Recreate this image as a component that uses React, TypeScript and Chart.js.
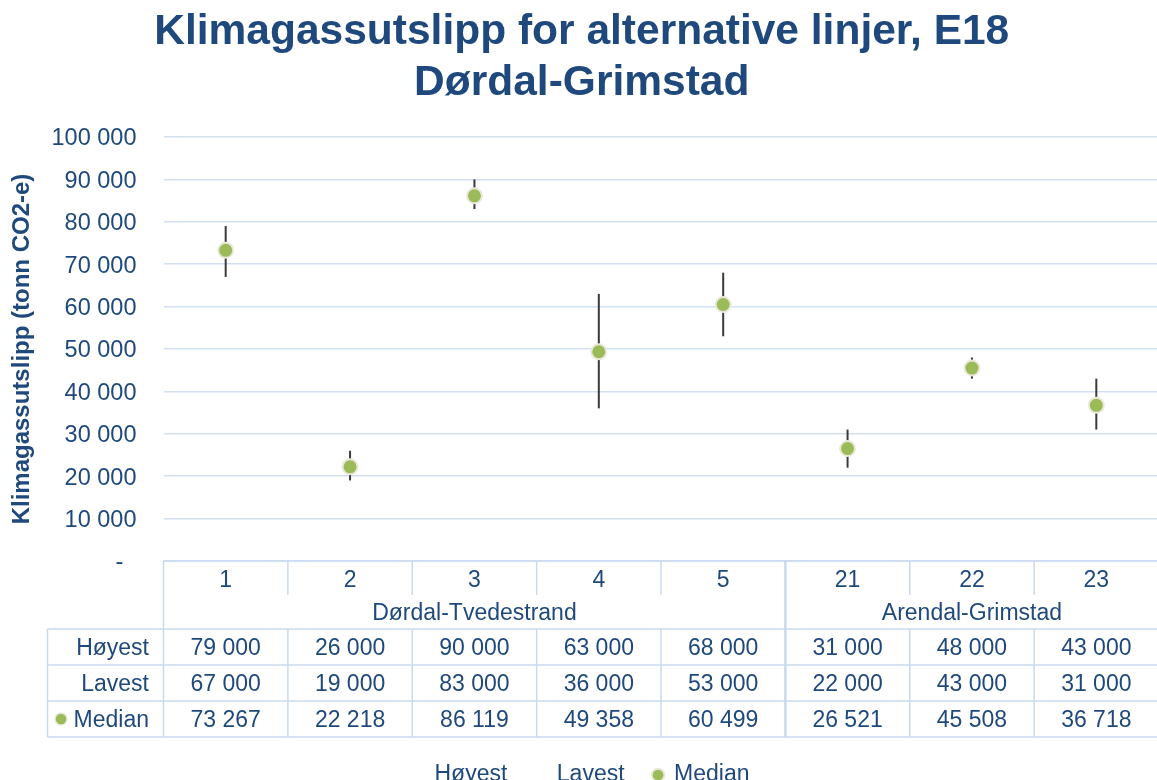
import React, { useEffect, useRef } from 'react';
import { Chart, registerables } from 'chart.js';

Chart.register(...registerables);

const categories = ['1', '2', '3', '4', '5', '21', '22', '23'];
const groups = ['Dørdal-Tvedestrand', 'Arendal-Grimstad'];
const groupSizes = [5, 3];
const hoyest = [79000, 26000, 90000, 63000, 68000, 31000, 48000, 43000];
const lavest = [67000, 19000, 83000, 36000, 53000, 22000, 43000, 31000];
const median = [73267, 22218, 86119, 49358, 60499, 26521, 45508, 36718];
const seriesNames = ['Høyest', 'Lavest', 'Median'];
const titleLines = ['Klimagassutslipp for alternative linjer, E18', 'Dørdal-Grimstad'];
const yTitle = 'Klimagassutslipp (tonn CO2-e)';
const yMax = 100000;
const yStep = 10000;

const FONT = "'Liberation Sans', Arial, sans-serif";
const TEXT = '#1F497D';
const GRID = '#D3E0F1';
const LINE = '#C9DAEF';
const GREEN = '#9BBB59';
const GREEN_BORDER = '#EAE8DA';
const HILO = '#3A3A3A';

const fmt = (v: number) => String(Math.round(v)).replace(/\B(?=(\d{3})+(?!\d))/g, ' ');

const hiLoPlugin = {
  id: 'hiLo',
  beforeDatasetsDraw(chart: any) {
    const { ctx } = chart;
    const xs = chart.scales.x;
    const ys = chart.scales.y;
    ctx.save();
    ctx.strokeStyle = HILO;
    ctx.lineWidth = 2;
    categories.forEach((_c, i) => {
      const x = xs.getPixelForValue(i);
      ctx.beginPath();
      ctx.moveTo(x, ys.getPixelForValue(hoyest[i]));
      ctx.lineTo(x, ys.getPixelForValue(lavest[i]));
      ctx.stroke();
    });
    ctx.restore();
  },
};

const tablePlugin = {
  id: 'dataTable',
  afterDraw(chart: any) {
    const { ctx, chartArea } = chart;
    const xs = chart.scales.x;
    const n = categories.length;
    const step = xs.getPixelForValue(1) - xs.getPixelForValue(0);
    const edge = (i: number) => xs.getPixelForValue(i) - step / 2;
    const top = chartArea.bottom;
    const catBottom = top + 34;
    const grpBottom = catBottom + 34;
    const rowH = 36;
    const bottom = grpBottom + rowH * 3;
    const headerLeft = chartArea.left - 116;
    const tableLeft = chartArea.left;
    const right = edge(n);
    const textNudge = 2;

    const hline = (x1: number, x2: number, y: number, w = 1.5) => {
      ctx.lineWidth = w;
      ctx.beginPath();
      ctx.moveTo(x1, y);
      ctx.lineTo(x2, y);
      ctx.stroke();
    };
    const vline = (x: number, y1: number, y2: number, w = 1.5) => {
      ctx.lineWidth = w;
      ctx.beginPath();
      ctx.moveTo(x, y1);
      ctx.lineTo(x, y2);
      ctx.stroke();
    };

    ctx.save();
    ctx.strokeStyle = LINE;
    hline(tableLeft, right, top);
    for (let r = 0; r <= 3; r++) hline(headerLeft, right, grpBottom + r * rowH);
    vline(headerLeft, grpBottom, bottom);
    vline(tableLeft, top, bottom);
    const groupEdges: number[] = [];
    let acc = 0;
    groupSizes.forEach((s) => {
      acc += s;
      groupEdges.push(acc);
    });
    for (let i = 1; i < n; i++) {
      const x = edge(i);
      if (groupEdges.includes(i)) {
        vline(x, top, bottom, 2.5);
      } else {
        vline(x, top, catBottom);
        vline(x, grpBottom, bottom);
      }
    }
    vline(right, top, bottom);

    ctx.fillStyle = TEXT;
    ctx.font = `23px ${FONT}`;
    ctx.textBaseline = 'middle';
    ctx.textAlign = 'center';
    let start = 0;
    groups.forEach((g, gi) => {
      const endIdx = start + groupSizes[gi];
      const cx = (edge(start) + edge(endIdx)) / 2;
      ctx.fillText(g, cx, (catBottom + grpBottom) / 2 + textNudge);
      start = endIdx;
    });
    const rows = [hoyest, lavest, median];
    rows.forEach((row, r) => {
      const cy = grpBottom + r * rowH + rowH / 2 + textNudge;
      row.forEach((v, i) => {
        ctx.fillText(fmt(v), xs.getPixelForValue(i), cy);
      });
    });
    ctx.textAlign = 'right';
    seriesNames.forEach((name, r) => {
      const cy = grpBottom + r * rowH + rowH / 2 + textNudge;
      ctx.fillText(name, chartArea.left - 14.5, cy);
    });
    // median marker in header
    const my = grpBottom + 2 * rowH + rowH / 2;
    ctx.beginPath();
    ctx.arc(headerLeft + 13.5, my, 6, 0, Math.PI * 2);
    ctx.fillStyle = GREEN;
    ctx.fill();
    ctx.lineWidth = 1.5;
    ctx.strokeStyle = GREEN_BORDER;
    ctx.stroke();
    ctx.restore();
  },
};

export default function App() {
  const ref = useRef<HTMLCanvasElement | null>(null);
  useEffect(() => {
    if (!ref.current) return;
    Chart.defaults.font.family = FONT;
    const chart = new Chart(ref.current, {
      type: 'line',
      data: {
        labels: categories,
        datasets: [
          {
            label: seriesNames[0],
            data: hoyest,
            showLine: false,
            pointRadius: 0,
            pointHoverRadius: 0,
            backgroundColor: 'rgba(0,0,0,0)',
            borderColor: 'rgba(0,0,0,0)',
            pointBackgroundColor: 'rgba(0,0,0,0)',
            pointBorderColor: 'rgba(0,0,0,0)',
          },
          {
            label: seriesNames[1],
            data: lavest,
            showLine: false,
            pointRadius: 0,
            pointHoverRadius: 0,
            backgroundColor: 'rgba(0,0,0,0)',
            borderColor: 'rgba(0,0,0,0)',
            pointBackgroundColor: 'rgba(0,0,0,0)',
            pointBorderColor: 'rgba(0,0,0,0)',
          },
          {
            label: seriesNames[2],
            data: median,
            showLine: false,
            pointRadius: 7.5,
            pointHoverRadius: 7.5,
            pointStyle: 'circle',
            backgroundColor: GREEN,
            borderColor: GREEN_BORDER,
            pointBackgroundColor: GREEN,
            pointBorderColor: GREEN_BORDER,
            pointBorderWidth: 2,
            borderWidth: 1.5,
          },
        ],
      },
      options: {
        responsive: false,
        animation: false,
        events: [],
        layout: { padding: { left: 0, right: 4.5, top: 0, bottom: -16.5 } },
        plugins: {
          tooltip: { enabled: false },
          title: {
            display: true,
            text: titleLines,
            color: TEXT,
            font: { size: 42.5, weight: 'bold', family: FONT, lineHeight: 1.2 },
            padding: { top: 7, bottom: 28 },
          },
          legend: {
            display: true,
            position: 'bottom',
            labels: {
              usePointStyle: true,
              boxWidth: 9,
              boxHeight: 9,
              padding: 29,
              color: TEXT,
              font: { size: 23, family: FONT },
            },
          },
        },
        scales: {
          x: {
            type: 'category',
            offset: true,
            afterFit: (s: any) => {
              s.height = 173.5;
            },
            grid: { display: false, drawTicks: false },
            border: { display: false },
            ticks: {
              color: TEXT,
              font: { size: 23, family: FONT },
              padding: 6,
              maxRotation: 0,
              autoSkip: false,
            },
          },
          y: {
            min: 0,
            max: yMax,
            afterFit: (s: any) => {
              s.width = 163.5;
            },
            grid: { color: GRID, lineWidth: 1.5, drawTicks: false },
            border: { display: false },
            ticks: {
              stepSize: yStep,
              color: TEXT,
              padding: 27,
              labelOffset: 2,
              font: { size: 23.5, family: FONT },
              callback: (v: any) => (Number(v) === 0 ? '-  ' : fmt(Number(v))),
            },
            title: {
              display: true,
              text: yTitle,
              color: TEXT,
              font: { size: 24, weight: 'bold', family: FONT },
              padding: { top: 8, bottom: 0 },
            },
          },
        },
      },
      plugins: [hiLoPlugin, tablePlugin],
    } as any);
    return () => chart.destroy();
  }, []);
  return (
    <div style={{ position: 'fixed', left: 0, top: 0, width: 1157, height: 780, overflow: 'hidden', background: '#fff' }}>
      <canvas ref={ref} width={1168} height={780} style={{ width: 1168, height: 780, display: 'block' }} />
    </div>
  );
}
